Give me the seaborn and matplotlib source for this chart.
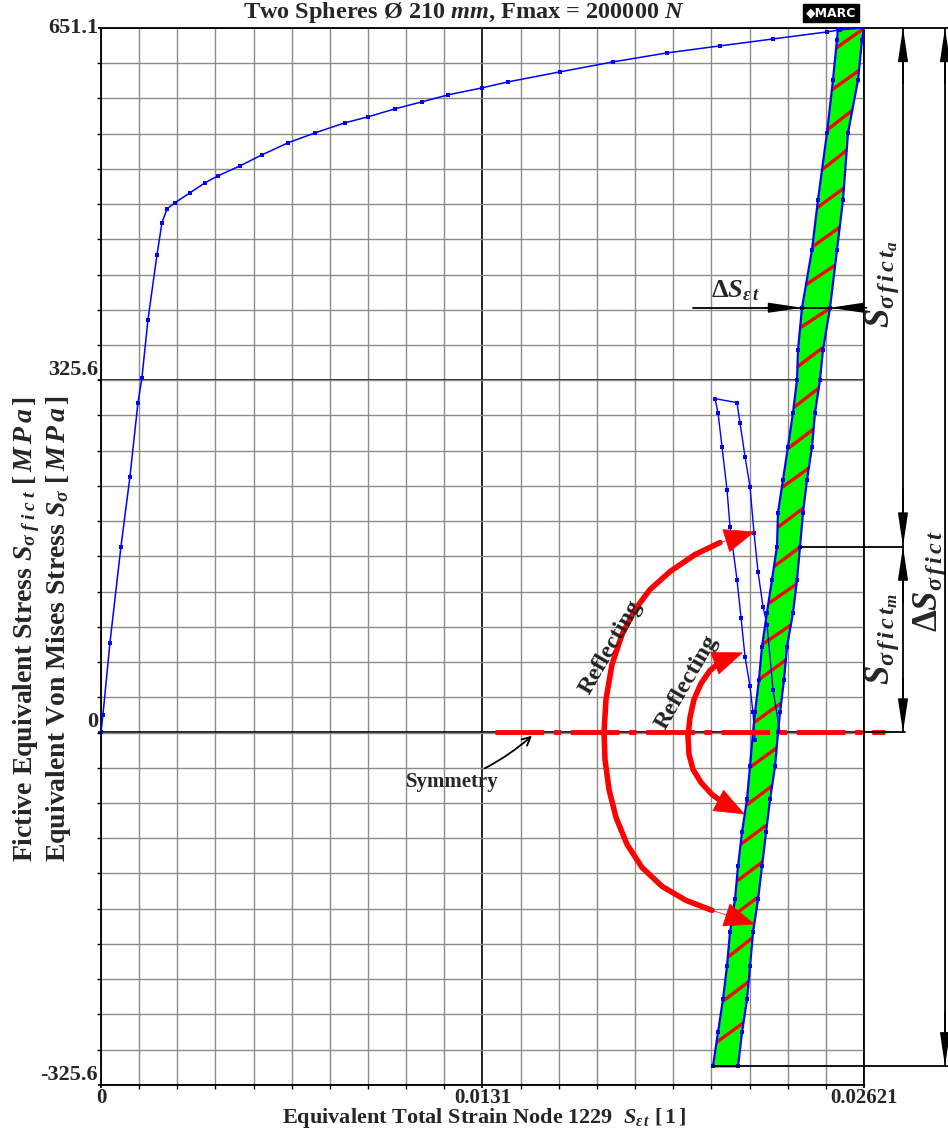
import numpy as np
import seaborn as sns
import matplotlib.pyplot as plt

# monotonic loading curve (strain [1], stress [MPa])
load_strain = [0.0, 0.0000687, 0.000309, 0.000687, 0.000996, 0.001271, 0.001408, 0.001614,
               0.001924, 0.002095, 0.002267, 0.002542, 0.003057, 0.003572, 0.004019, 0.004775,
               0.005531, 0.006424, 0.007351, 0.008382, 0.009172, 0.010099, 0.011027, 0.011920,
               0.013088, 0.013981, 0.015767, 0.017588, 0.019443, 0.021263, 0.023084, 0.024939,
               0.025385, 0.02621]
load_stress = [0.0, 16.6, 83.1, 171.8, 236.4, 304.8, 327.9, 381.4, 441.4, 471.0, 483.9, 489.5,
               498.7, 507.9, 514.4, 523.6, 533.8, 544.9, 554.1, 563.4, 568.9, 576.3, 582.8, 589.2,
               595.7, 601.2, 610.5, 619.7, 628.0, 634.5, 640.9, 647.4, 649.3, 651.1]

# stabilised hysteresis band (green)
band_stress = [651.1, 640.0, 603.1, 554.1, 492.3, 446.1, 392.5, 353.7, 326.0, 295.5, 264.1, 233.7,
               203.2, 171.8, 141.3, 110.8, 79.4, 48.9, 18.5, 0.0, -31.4, -61.9, -92.4, -123.8,
               -154.2, -184.7, -216.1, -246.6, -277.1, -308.5]
band_left = [0.025317, 0.025282, 0.025145, 0.024939, 0.024630, 0.024424, 0.024081, 0.023943,
             0.023909, 0.023771, 0.023600, 0.023428, 0.023256, 0.023221, 0.023050, 0.022878,
             0.022706, 0.022603, 0.022466, 0.022397, 0.022294, 0.022191, 0.022019, 0.021882,
             0.021779, 0.021607, 0.021504, 0.021366, 0.021195, 0.021023]
band_right = [0.02621, 0.026141, 0.026004, 0.025660, 0.025488, 0.025282, 0.025042, 0.024801,
              0.024698, 0.024527, 0.024424, 0.024252, 0.024115, 0.024012, 0.023909, 0.023771,
              0.023565, 0.023462, 0.023325, 0.023256, 0.023153, 0.022981, 0.022844, 0.022706,
              0.022569, 0.022397, 0.022294, 0.022191, 0.022019, 0.021882]

# thin reflected branch
refl_strain = [0.02332, 0.023084, 0.022878, 0.022740, 0.022569, 0.022431, 0.022294, 0.022122,
               0.021950, 0.021847, 0.021092, 0.021195, 0.021332, 0.021504, 0.021607, 0.021847,
               0.021985, 0.022122, 0.022294, 0.022397, 0.022466]
refl_stress = [0.0, 39.7, 99.7, 116.4, 148.7, 184.7, 227.2, 254.9, 286.3, 304.8, 308.5, 295.5,
               264.1, 224.4, 190.3, 141.3, 106.2, 70.2, 42.5, 18.5, -6.5]

# red hatch strokes inside the band (stress at the left end)
hatch_stress = [632.6, 593.8, 556.9, 520.0, 484.9, 448.8, 413.8, 374.0, 338.0, 300.2, 262.3,
                226.3, 189.4, 153.3, 119.1, 81.3, 48.9, 9.2, -32.3, -67.4, -103.4, -137.6,
                -169.9, -207.8, -248.4, -286.3]
hatch_rise = 18.0

# "Reflecting" arrows (first and last points are the arrow tips)
big_arc_strain = [0.022466, 0.021263, 0.020405, 0.019546, 0.018859, 0.018343, 0.017897, 0.017553,
                  0.017347, 0.017279, 0.017313, 0.017450, 0.017691, 0.018069, 0.018584, 0.019271,
                  0.020096, 0.020989, 0.022466]
big_arc_stress = [185.6, 175.5, 164.4, 148.7, 132.1, 113.6, 90.5, 62.8, 30.5, 0.0, -24.9, -52.6,
                  -78.5, -103.4, -124.7, -142.2, -155.2, -164.4, -177.3]
small_arc_strain = [0.022053, 0.021332, 0.020920, 0.020611, 0.020370, 0.020233, 0.020164,
                    0.020199, 0.020336, 0.020611, 0.020989, 0.021401, 0.022122]
small_arc_stress = [73.9, 66.5, 57.3, 45.3, 30.5, 13.9, -3.7, -20.3, -34.2, -46.2, -57.3, -65.6,
                    -75.7]

x_ticks = [0.0, 0.013105, 0.02621]
x_tick_labels = ['0', '0.0131', '0.02621']
y_ticks = [-325.6, 0.0, 325.6, 651.1]
y_tick_labels = ['-325.6', '0', '325.6', '651.1']

sns.set_theme(style='white')
plt.rcParams['font.family'] = ['Liberation Serif', 'DejaVu Serif', 'DejaVu Sans']
plt.rcParams['font.weight'] = 'bold'
plt.rcParams['mathtext.fontset'] = 'custom'
plt.rcParams['mathtext.it'] = 'Liberation Serif:italic:bold'
plt.rcParams['mathtext.rm'] = 'Liberation Serif:bold'
plt.rcParams['mathtext.bf'] = 'Liberation Serif:bold'

fig = plt.figure(figsize=(9.48, 11.3), dpi=100)
ax = fig.add_axes([0.1065, 0.0400, 0.8049, 0.9353])
ax.set_xlim(0, 0.02621)
ax.set_ylim(-325.6, 651.1)

# grid
ax.set_xticks(np.linspace(0, 0.02621, 21), minor=True)
ax.set_yticks(np.linspace(-325.6, 651.1, 31), minor=True)
ax.set_xticks(x_ticks)
ax.set_xticklabels(x_tick_labels, fontsize=15, fontweight='bold')
ax.set_yticks(y_ticks)
ax.set_yticklabels(y_tick_labels, fontsize=16, fontweight='bold')
for lab in ax.get_yticklabels():
    lab.set_va('bottom')
ax.get_yticklabels()[-1].set_va('center')
ax.grid(which='minor', color='#8c8c84', lw=1.0)
ax.grid(which='major', color='black', lw=1.2)
ax.set_axisbelow(True)
ax.tick_params(which='both', bottom=True, left=True, direction='out', color='black')
ax.tick_params(which='major', length=2, pad=0)
ax.tick_params(which='minor', length=3)
for sp in ax.spines.values():
    sp.set_color('black')
    sp.set_linewidth(1.3)

# loading curve
sns.lineplot(x=load_strain, y=load_stress, sort=False, estimator=None, color='blue', lw=1.1,
             marker='s', markersize=3.5, markeredgewidth=0, ax=ax, zorder=3)

# green band with hatching
ax.fill_betweenx(band_stress, band_left, band_right, color='#00ff00', lw=0, zorder=2)
bs = np.array(band_stress)[::-1]
bl = np.array(band_left)[::-1]
br = np.array(band_right)[::-1]
for s in hatch_stress:
    s1 = min(s + hatch_rise, 651.1)
    ax.plot([np.interp(s, bs, bl), np.interp(s1, bs, br)], [s, s1], color='red', lw=2.4,
            solid_capstyle='butt', zorder=4)
outline_x = band_left + band_right[::-1] + band_left[:1]
outline_y = band_stress + band_stress[::-1] + band_stress[:1]
sns.lineplot(x=outline_x, y=outline_y, sort=False, estimator=None, color='blue', lw=1.6,
             marker='s', markersize=3.5, markeredgewidth=0, ax=ax, zorder=5)

sns.lineplot(x=refl_strain, y=refl_stress, sort=False, estimator=None, color='blue', lw=1.0,
             marker='s', markersize=3.2, markeredgewidth=0, ax=ax, zorder=5)

# symmetry line
ax.plot([0.013534, 0.026931], [0, 0], color='red', lw=3.5, dashes=(10, 2, 1.5, 2),
        clip_on=False, zorder=6)
ax.annotate('Symmetry', xy=(0.014805, -3), xytext=(0.012057, -46.2), ha='center', va='center',
            fontsize=15, fontweight='bold',
            arrowprops=dict(arrowstyle='->', color='black', lw=1.3, shrinkA=1, shrinkB=0,
                            connectionstyle='arc3,rad=0.1'))

# reflecting arrows
head = '-|>,head_length=1.4,head_width=0.55'
for xs, ys in [(big_arc_strain, big_arc_stress), (small_arc_strain, small_arc_stress)]:
    sns.lineplot(x=xs[1:-1], y=ys[1:-1], sort=False, estimator=None, color='red', lw=4,
                 ax=ax, zorder=7)
    for a, b in [(1, 0), (-2, -1)]:
        ax.annotate('', xy=(xs[b], ys[b]), xytext=(xs[a], ys[a]),
                    arrowprops=dict(arrowstyle=head, color='red', lw=0.5, mutation_scale=15,
                                    shrinkA=0, shrinkB=0), zorder=7)
ax.text(0.017520, 78.5, 'Reflecting', rotation=60, ha='center', va='center', fontsize=17.5,
        fontweight='bold', color='#222222', zorder=8)
ax.text(0.020130, 46.0, 'Reflecting', rotation=60, ha='center', va='center', fontsize=17.5,
        fontweight='bold', color='#222222', zorder=8)

# dimension lines
kw = dict(color='black', lw=1.3, clip_on=False, zorder=6)
ax.plot([0.02621, 0.0292], [651.1, 651.1], **kw)
ax.plot([0.024012, 0.027549], [171.8, 171.8], **kw)
ax.plot([0.02621, 0.027618], [0, 0], **kw)
ax.plot([0.021023, 0.0292], [-308.5, -308.5], **kw)
ax.plot([0.027549, 0.027549], [651.1, 0], **kw)
ax.plot([0.028992, 0.028992], [651.1, -308.5], **kw)
ax.plot([0.020336, 0.025901], [392.5, 392.5], **kw)


def dim_arrow(x0, y0, x1, y1):
    ax.annotate('', xy=(x1, y1), xytext=(x0, y0), annotation_clip=False,
                arrowprops=dict(arrowstyle='-|>,head_length=1.0,head_width=0.15', color='black',
                                lw=1.2, mutation_scale=20, shrinkA=0, shrinkB=0), zorder=6)


dim_arrow(0.027549, 600, 0.027549, 651.1)
dim_arrow(0.027549, 225, 0.027549, 171.8)
dim_arrow(0.027549, 120, 0.027549, 171.8)
dim_arrow(0.027549, 50, 0.027549, 0)
dim_arrow(0.028992, 600, 0.028992, 651.1)
dim_arrow(0.028992, -258, 0.028992, -308.5)
dim_arrow(0.0228, 392.5, 0.024081, 392.5)
dim_arrow(0.0263, 392.5, 0.025042, 392.5)

sub = r'{\sigma\;f\;i\;c\;t}'
ax.text(0.021779, 408.0, r'$\Delta S_{\varepsilon\,t}$', ha='center', va='center', fontsize=19,
        zorder=8)
ax.text(0.026828, 413.8, r'$S_{\sigma\,f\,i\,c\,t_a}$', rotation=90, ha='center', va='center',
        fontsize=25, clip_on=False)
ax.text(0.026828, 85.9, r'$S_{\sigma\,f\,i\,c\,t_m}$', rotation=90, ha='center', va='center',
        fontsize=25, clip_on=False)
ax.text(0.028477, 139.5, r'$\Delta S_{\sigma\,f\,i\,c\,t}$', rotation=90, ha='center',
        va='center', fontsize=25, clip_on=False)

# titles and axis labels
fig.text(0.4895, 0.9885, r'Two Spheres Ø 210 $mm$, Fmax = 200000 $N$', ha='center',
         va='center', fontsize=17.5, fontweight='bold')
fig.text(0.8766, 0.9885, '◆MARC', ha='center', va='center', fontsize=9, color='white',
         family='DejaVu Sans', fontweight='bold',
         bbox=dict(boxstyle='square,pad=0.2', fc='black', ec='black'))
fig.text(0.0284, 0.2372, r'Fictive Equivalent Stress $S_' + sub + r'$ $[\,M\,P\,a\,]$',
         rotation=90, ha='center', va='bottom', fontsize=20, fontweight='bold')
fig.text(0.0620, 0.2372, r'Equivalent Von Mises Stress $S_{\sigma}$ $[\,M\,P\,a\,]$',
         rotation=90, ha='center', va='bottom', fontsize=20, fontweight='bold')
fig.text(0.5105, 0.0, r'Equivalent Total Strain Node 1229  $S_{\varepsilon\,t}$ $[\,1\,]$',
         ha='center', va='bottom', fontsize=16, fontweight='bold')

fig.savefig('out.png', dpi=100)
